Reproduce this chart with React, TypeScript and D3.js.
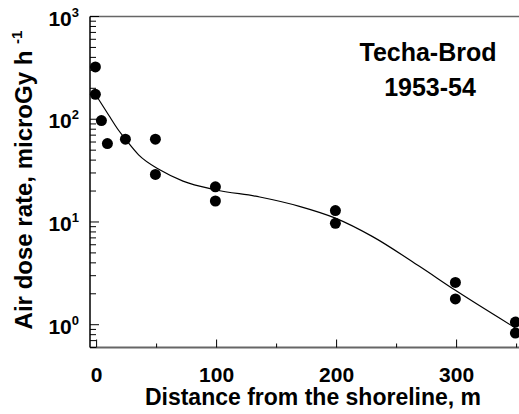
import React from "react";
import * as d3 from "d3";

const obsDistance = [-1, -1, 4, 9, 24, 49, 49, 99, 99, 199, 199, 299, 299, 349, 349];
const obsDose = [323, 175, 97, 58, 64, 64, 29, 22, 16, 12.9, 9.7, 2.58, 1.78, 1.06, 0.83];

const fitDistance = [-1, 10, 18, 24, 35, 53, 72, 99, 136, 169, 199, 230, 269, 299, 349];
const fitDose = [175, 110, 79, 64, 45, 32, 25, 20.6, 17.5, 14.2, 10.9, 7.2, 3.7, 2.16, 0.93];

const xMajorTicks = [0, 100, 200, 300];
const xMinorTicks = [50, 150, 250, 350];
const yMajorExps = [0, 1, 2, 3];

const annotation = ["Techa-Brod", "1953-54"];
const xTitle = "Distance from the shoreline, m";
const yTitle = "Air dose rate, microGy h";

const W = 519;
const H = 414;
const L = 90;
const R = 519;
const T = 16.5;
const B = 347.5;
const FONT = "'Liberation Sans', Arial, Helvetica, sans-serif";

export default function App() {
  const x = d3.scaleLinear().domain([-5.5, 352]).range([L, R]);
  const y = d3.scaleLog().domain([0.6, 1000]).range([B, T]);

  const line = d3
    .line<number>()
    .x((_, i) => x(fitDistance[i]))
    .y((d) => y(d))
    .curve(d3.curveMonotoneX);

  const minorY: number[] = [];
  for (let e = -1; e <= 2; e++) {
    for (let m = 2; m <= 9; m++) {
      const v = m * Math.pow(10, e);
      if (v >= 0.6 && v < 1000) minorY.push(v);
    }
  }

  return (
    <svg
      width={W}
      height={H}
      style={{ position: "absolute", left: 0, top: 0, background: "#fff" }}
      fontFamily={FONT}
      fontWeight="bold"
    >
      {/* frame */}
      <line x1={L} x2={R} y1={T} y2={T} stroke="#666" strokeWidth={1.5} />
      <line x1={L} x2={R} y1={B} y2={B} stroke="#666" strokeWidth={2} />
      <line x1={L} x2={L} y1={T} y2={B} stroke="#000" strokeWidth={1.5} />

      {/* y ticks */}
      {yMajorExps.map((e) => (
        <line key={"ym" + e} x1={L} x2={L + 9} y1={y(Math.pow(10, e))} y2={y(Math.pow(10, e))} stroke="#000" strokeWidth={1} />
      ))}
      {minorY.map((v) => (
        <line key={"yn" + v} x1={L} x2={L + 6} y1={y(v)} y2={y(v)} stroke="#000" strokeWidth={1} />
      ))}
      {yMajorExps.map((e) => (
        <text key={"yl" + e} x={79} y={y(Math.pow(10, e)) + 9} textAnchor="end" fontSize={21} fill="#000">
          10
          <tspan fontSize={13} dy={-9}>{e}</tspan>
        </text>
      ))}

      {/* x ticks */}
      {xMajorTicks.map((t) => (
        <line key={"xm" + t} x1={x(t)} x2={x(t)} y1={B} y2={B - 8} stroke="#000" strokeWidth={1} />
      ))}
      {xMinorTicks.map((t) => (
        <line key={"xn" + t} x1={x(t)} x2={x(t)} y1={B} y2={B - 4} stroke="#000" strokeWidth={1} />
      ))}
      {xMajorTicks.map((t) => (
        <text key={"xl" + t} x={x(t)} y={382} textAnchor="middle" fontSize={21} fill="#000">
          {t}
        </text>
      ))}

      {/* fit curve */}
      <path d={line(fitDose) || ""} fill="none" stroke="#000" strokeWidth={1.2} />

      {/* observations */}
      {obsDose.map((v, i) => (
        <circle key={"p" + i} cx={x(obsDistance[i])} cy={y(v)} r={5.5} fill="#000" />
      ))}

      {/* titles */}
      <text x={313} y={405} textAnchor="middle" fontSize={23} fill="#000">
        {xTitle}
      </text>
      <text transform={`translate(32, ${180}) rotate(-90)`} textAnchor="middle" fontSize={24} fill="#000">
        {yTitle + " "}
        <tspan fontSize={15} dy={-10}>-1</tspan>
      </text>

      {/* annotation */}
      <text x={428} y={61} textAnchor="middle" fontSize={25} fill="#000">
        {annotation[0]}
      </text>
      <text x={430} y={96} textAnchor="middle" fontSize={25} fill="#000">
        {annotation[1]}
      </text>
    </svg>
  );
}
